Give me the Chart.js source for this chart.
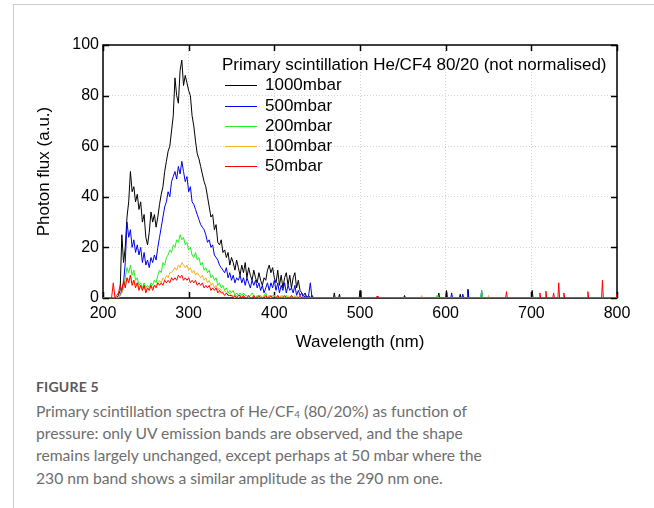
<!DOCTYPE html>
<html><head><meta charset="utf-8">
<script src="https://cdn.jsdelivr.net/npm/chart.js@4.4.1/dist/chart.umd.min.js"></script>
<style>
html,body{margin:0;padding:0;background:#fff;}
body{width:654px;height:508px;position:relative;overflow:hidden;font-family:"Liberation Sans",Arial,sans-serif;}
#frame{position:absolute;left:13px;top:4px;width:700px;height:600px;border-top:1px solid #cdcdcd;border-left:1px solid #cdcdcd;}
#chartBox{position:absolute;left:0;top:0;width:654px;height:360px;}
#legend{position:absolute;left:222px;top:55px;font-size:17px;color:#000;font-family:"Liberation Sans",Arial,sans-serif;}
#legend .ttl{position:absolute;left:0;top:0;white-space:nowrap;line-height:20px;}
#legend .row{position:absolute;left:3px;white-space:nowrap;line-height:20px;height:20px;}
#legend .sw{position:absolute;left:0;top:10px;width:32px;height:0;border-top:1px solid;}
#legend .lb{position:absolute;left:40px;top:0;}
#figlab{position:absolute;left:36px;top:378px;font-family:Lato,"Open Sans",sans-serif;font-size:14px;color:#5a5a5a;font-weight:700;letter-spacing:0.2px;}
.cl{position:absolute;left:36px;white-space:nowrap;font-family:Lato,"Open Sans",sans-serif;font-size:18px;color:#6e6e6e;line-height:22px;}
.cl sub{font-size:0.62em;vertical-align:-0.15em;line-height:0;}
</style>
</head><body>
<div id="frame"></div>
<div id="chartBox"><canvas id="c" width="654" height="360"></canvas></div>
<div id="legend"></div>
<div id="figlab">FIGURE 5</div>
<div class="cl" id="l1" style="top:400px">Primary scintillation spectra of He/CF<sub>4</sub> (80/20%) as function of</div>
<div class="cl" id="l2" style="top:422px">pressure: only UV emission bands are observed, and the shape</div>
<div class="cl" id="l3" style="top:444px">remains largely unchanged, except perhaps at 50 mbar where the</div>
<div class="cl" id="l4" style="top:467px">230 nm band shows a similar amplitude as the 290 nm one.</div>
<script>
// ---------------- data ----------------
const legendTitle = "Primary scintillation He/CF4 80/20 (not normalised)";
const seriesNames = ["1000mbar", "500mbar", "200mbar", "100mbar", "50mbar"];
const seriesColors = ["#000000", "#0000ee", "#22ee22", "#ffb020", "#ff0000"];

// main band sampling: 210 nm .. 450 nm every 2 nm
const gridStart = 210, gridStep = 2;

const s1000 = [0,0,0,0,1,
 3,25,14,20,32,38,50,42,44,38,
 41,35,38,30,33,24,21,26,34,30,
 33,28,32,37,41,44,50,54,58,60,
 66,72,87,80,77,90,94,84,88,85,
 82,80,72,68,62,57,55,52,49,46,
 44,40,36,32,33,27,29,22,21,23,
 18,19,16,18,13,16,14,11,15,12,
 9,13,10,14,8,12,9,7,11,8,
 6,10,7,5,8,7,11,13,10,12,
 8,6,11,5,9,4,8,10,5,9,
 4,8,10,4,7,3,2,1,2,0,
 1,0,1,0,0,0];
const s500 = [0,0,0,0,0,
 1,3,6,14,30,24,27,20,23,18,
 21,17,20,14,18,13,15,12,16,14,
 17,15,20,24,28,32,36,38,42,40,
 46,48,50,47,52,49,54,50,46,48,
 42,44,38,37,35,33,31,29,28,27,
 25,22,23,20,21,17,16,15,13,12,
 11,10,12,8,10,7,9,6,8,7,
 9,6,8,5,8,6,4,7,5,7,
 4,6,3,5,2,4,6,3,6,4,
 7,3,6,2,5,3,6,2,5,3,
 4,2,5,1,3,1,2,0,1,0,
 1,6,0,0,0,0];
const s200 = [0,0,0,0,0,
 1,2,4,8,12,10,13,9,11,7,
 8,5,6,4,6,4,5,4,6,5,
 7,6,9,11,10,14,13,16,17,19,
 18,21,20,23,22,25,23,24,21,22,
 19,20,17,16,18,15,16,13,14,11,
 12,10,11,8,9,7,8,5,6,4,
 5,3,4,2,3,2,3,1,2,1,
 2,1,2,1,1,0,1,2,1,0,
 1,0,1,0,1,2,0,1,0,1,
 1,0,1,0,0,1,0,1,0,0,
 1,0,0,1,0,0,0,0,0,0,
 0,0,0,0,0,0];
const s100 = [0,0,0,0,0,
 1,2,4,6,8,7,9,6,7,5,
 6,4,5,3,5,3,4,3,5,4,
 5,5,6,7,6,8,7,9,8,10,
 10,11,12,11,13,12,14,13,12,13,
 11,12,10,11,9,10,9,8,9,7,
 8,6,7,5,6,4,5,3,4,3,
 2,3,2,1,2,1,1,0,1,0,
 1,0,1,0,0,1,0,0,1,0,
 0,1,0,0,1,0,0,1,0,0,
 1,0,0,0,1,0,0,0,1,0,
 0,0,1,0,0,0,0,0,0,0,
 0,0,0,0,0,0];
const s50 = [0,6,0,1,2,
 5,3,7,4,8,6,9,5,7,4,
 6,3,5,3,5,2,4,3,5,3,
 5,4,6,5,6,5,7,6,7,6,
 8,7,8,7,9,8,9,7,8,7,
 8,6,7,6,7,5,6,5,6,4,
 5,4,5,3,4,3,4,2,3,2,
 2,1,2,1,1,1,0,1,0,1,
 1,0,1,0,0,1,0,0,1,0,
 0,1,0,0,0,1,0,0,1,0,
 0,0,1,0,0,0,1,0,0,0,
 1,0,0,0,0,1,0,0,0,0,
 0,0,0,0,0,0];

// isolated narrow lines beyond 450 nm: [wavelength, flux]
const tail1000 = [[470,2],[476,1.5],[500,3],[552,1],[592,2],[601,3],[617,1.5],[626,3.5],[701,3]];
const tail500  = [[607,2],[620,1.5],[626,3],[642,3]];
const tail200  = [[590,1],[642,3]];
const tail100  = [[572,1],[650,1]];
const tail50   = [[520,0.8],[671,2.5],[710,2],[717,2.7],[726,2],[732,6],[738,2],[766,2.5],[783,7],[800,1.5]];

const xTicksMin = 200, xTicksMax = 800, xStep = 100;
const yTicksMin = 0, yTicksMax = 100, yStep = 20;

// ---------------- build datasets ----------------
function buildPoints(vals, tail) {
  const pts = [{x: xTicksMin, y: 0}];
  vals.forEach((v, i) => pts.push({x: gridStart + i * gridStep, y: v}));
  tail.forEach(([w, h]) => {
    pts.push({x: w - 1, y: 0});
    pts.push({x: w, y: h});
    if (w + 1 <= xTicksMax) pts.push({x: w + 1, y: 0});
  });
  if (pts[pts.length - 1].x < xTicksMax) pts.push({x: xTicksMax, y: 0});
  return pts;
}
const allVals = [s1000, s500, s200, s100, s50];
const allTails = [tail1000, tail500, tail200, tail100, tail50];
const datasets = seriesNames.map((n, i) => ({
  label: n,
  data: buildPoints(allVals[i], allTails[i]),
  borderColor: seriesColors[i],
  backgroundColor: seriesColors[i],
  borderWidth: 1,
  pointRadius: 0,
  tension: 0,
  order: seriesNames.length - i
}));

// ---------------- legend (HTML) ----------------
const leg = document.getElementById('legend');
const t = document.createElement('div'); t.className = 'ttl'; t.textContent = legendTitle; leg.appendChild(t);
const rowTops = [20, 41, 61, 81, 101];
seriesNames.forEach((n, i) => {
  const r = document.createElement('div'); r.className = 'row'; r.style.top = rowTops[i] + 'px';
  const sw = document.createElement('div'); sw.className = 'sw'; sw.style.borderTopColor = seriesColors[i];
  const lb = document.createElement('div'); lb.className = 'lb'; lb.textContent = n;
  r.appendChild(sw); r.appendChild(lb); leg.appendChild(r);
});

// ---------------- frame & inward ticks ----------------
const framePlugin = {
  id: 'frame',
  beforeDatasetsDraw(chart) {
    const {ctx, chartArea: a, scales: {x, y}} = chart;
    ctx.save();
    ctx.strokeStyle = '#000';
    ctx.lineWidth = 1.5;
    ctx.strokeRect(a.left, a.top, a.right - a.left, a.bottom - a.top);
    ctx.beginPath();
    const L = 6;
    x.ticks.forEach(tk => {
      const px = Math.round(x.getPixelForValue(tk.value)) + 0.5;
      ctx.moveTo(px, a.bottom); ctx.lineTo(px, a.bottom - L);
      ctx.moveTo(px, a.top); ctx.lineTo(px, a.top + L);
    });
    y.ticks.forEach(tk => {
      const py = Math.round(y.getPixelForValue(tk.value)) + 0.5;
      ctx.moveTo(a.left, py); ctx.lineTo(a.left + L, py);
      ctx.moveTo(a.right, py); ctx.lineTo(a.right - L, py);
    });
    ctx.stroke();
    ctx.restore();
  }
};

const font = {family: '"Liberation Sans", Arial, sans-serif', size: 16};
const titleFont = {family: '"Liberation Sans", Arial, sans-serif', size: 17};
new Chart(document.getElementById('c'), {
  type: 'line',
  data: {datasets},
  options: {
    responsive: false,
    animation: false,
    layout: {padding: {top: 45, right: 37, left: 0, bottom: 0}},
    plugins: {legend: {display: false}, tooltip: {enabled: false}},
    scales: {
      x: {
        type: 'linear', min: xTicksMin, max: xTicksMax,
        ticks: {stepSize: xStep, padding: 6, color: '#000', font},
        grid: {color: '#d4d4d4', drawTicks: false, lineWidth: 1},
        border: {display: false, dash: [1, 2]},
        title: {display: true, text: 'Wavelength (nm)', color: '#000', font: titleFont, padding: {top: 0, bottom: 7}},
        afterFit: s => { s.height = 62; }
      },
      y: {
        type: 'linear', min: yTicksMin, max: yTicksMax,
        ticks: {stepSize: yStep, padding: 4, color: '#000', font},
        grid: {color: '#d4d4d4', drawTicks: false, lineWidth: 1},
        border: {display: false, dash: [1, 2]},
        title: {display: true, text: 'Photon flux (a.u.)', color: '#000', font: titleFont, padding: {top: 34, bottom: 0}},
        afterFit: s => { s.width = 103; }
      }
    }
  },
  plugins: [framePlugin]
});

// ---------------- caption fitting ----------------
const targets = {l1: 426, l2: 427, l3: 449, l4: 410};
let ratio = 0, n = 0;
Object.keys(targets).forEach(id => { const el = document.getElementById(id); ratio += targets[id] / el.getBoundingClientRect().width; n++; });
ratio /= n;
document.querySelectorAll('.cl').forEach(el => { el.style.fontSize = (18 * ratio).toFixed(2) + 'px'; });
</script>
</body></html>
